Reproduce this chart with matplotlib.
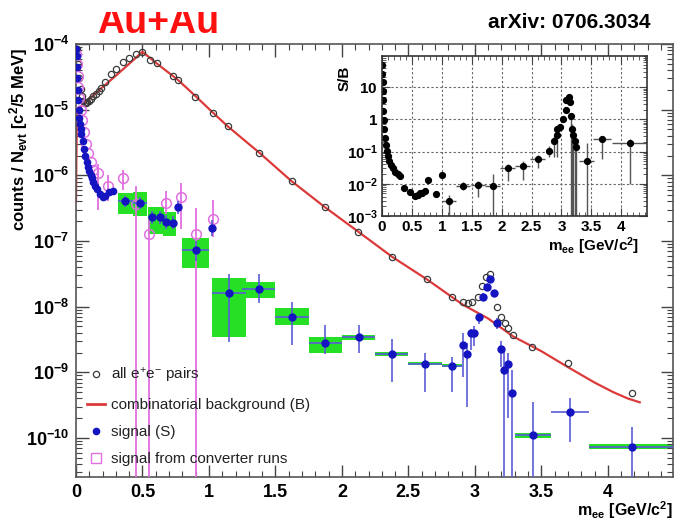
import matplotlib
matplotlib.use('Agg')
import matplotlib.pyplot as plt
import numpy as np
from matplotlib.ticker import FixedLocator, LogLocator, MultipleLocator, NullFormatter
from matplotlib.patches import Rectangle
from matplotlib.lines import Line2D

plt.rcParams['font.family'] = ['Liberation Sans', 'DejaVu Sans']
plt.rcParams['mathtext.fontset'] = 'custom'
plt.rcParams['mathtext.rm'] = 'Liberation Sans'
plt.rcParams['mathtext.bf'] = 'Liberation Sans:bold'
plt.rcParams['mathtext.it'] = 'Liberation Sans:italic'
plt.rcParams['mathtext.default'] = 'bf'

# ---- data ----
# combinatorial background (B)
bkg_x = [0.0, 0.003, 0.006, 0.01, 0.1, 0.2, 0.3, 0.4, 0.5, 0.6, 0.77, 0.9, 1.03, 1.14, 1.38,
         1.62, 1.87, 2.12, 2.38, 2.64, 2.91, 3.1, 3.29, 3.5, 3.7, 3.9, 4.04, 4.15, 4.24]
bkg_y = [4e-7, 2e-6, 6e-6, 1e-5, 1.45e-5, 2.2e-5, 3.3e-5, 5e-5, 7.6e-5, 5.2e-5, 2.8e-5, 1.6e-5,
         9e-6, 5.6e-6, 2.2e-6, 8.2e-7, 3.3e-7, 1.4e-7, 5.7e-8, 2.6e-8, 1.07e-8, 6.6e-9, 3.5e-9,
         2.1e-9, 1.2e-9, 7e-10, 5e-10, 4e-10, 3.5e-10]

# all e+e- pairs
all_x = [0.005, 0.015, 0.025, 0.035, 0.045, 0.055, 0.065, 0.075, 0.085, 0.095, 0.11, 0.13, 0.15,
         0.17, 0.19, 0.22, 0.26, 0.30, 0.35, 0.40, 0.45, 0.50, 0.556, 0.61, 0.73, 0.77, 0.895,
         1.03, 1.14, 1.376, 1.624, 1.872, 2.12, 2.376, 2.64, 2.83, 2.91, 2.95, 2.98, 3.02, 3.05,
         3.08, 3.11, 3.17, 3.20, 3.23, 3.25, 3.29, 3.43, 3.70, 4.18]
all_y = [8.5e-5, 5e-5, 3e-5, 2.1e-5, 1.6e-5, 1.35e-5, 1.25e-5, 1.25e-5, 1.3e-5, 1.35e-5, 1.45e-5,
         1.6e-5, 1.75e-5, 1.95e-5, 2.15e-5, 2.6e-5, 3.5e-5, 4.1e-5, 5.3e-5, 6.2e-5, 7e-5, 7.6e-5,
         5.7e-5, 5.1e-5, 3.2e-5, 2.8e-5, 1.56e-5, 8.9e-6, 5.6e-6, 2.2e-6, 8.2e-7, 3.3e-7, 1.38e-7,
         5.7e-8, 2.6e-8, 1.4e-8, 1.17e-8, 1.15e-8, 1.17e-8, 1.4e-8, 2.1e-8, 2.8e-8, 3.2e-8, 1e-8,
         7e-9, 5.6e-9, 4.8e-9, 3.7e-9, 2.45e-9, 1.4e-9, 4.9e-10]

# signal (S), fine low-mass bins
sd_x = [0.002, 0.005, 0.008, 0.011, 0.014, 0.017, 0.02, 0.025, 0.03, 0.035, 0.04, 0.05, 0.06,
        0.07, 0.08, 0.09, 0.10, 0.11, 0.12, 0.13, 0.145, 0.16, 0.18, 0.20, 0.22, 0.25, 0.28]
sd_y = [8.5e-5, 6.5e-5, 4.5e-5, 3e-5, 2e-5, 1.4e-5, 1e-5, 7.5e-6, 6e-6, 5e-6, 4.2e-6, 3.3e-6,
        2.5e-6, 2e-6, 1.6e-6, 1.35e-6, 1.15e-6, 1e-6, 9e-7, 8e-7, 7e-7, 6.3e-7, 5.2e-7, 4.6e-7,
        4.8e-7, 5.5e-7, 5.8e-7]

# signal (S), wider bins with stat. errors and syst. boxes
sig_x = [0.37, 0.48, 0.57, 0.63, 0.68, 0.73, 0.77, 0.90, 1.02, 1.15, 1.375, 1.625, 1.875, 2.125,
         2.375, 2.625, 2.825, 2.91, 2.94, 2.97, 2.99, 3.03, 3.06, 3.09, 3.11, 3.14, 3.17, 3.20,
         3.22, 3.25, 3.28, 3.435, 3.715, 4.18]
sig_y = [4.0e-7, 3.8e-7, 2.3e-7, 2.3e-7, 1.95e-7, 1.9e-7, 3.3e-7, 7.2e-8, 1.6e-7, 1.6e-8, 1.85e-8,
         7.0e-9, 2.8e-9, 3.4e-9, 1.9e-9, 1.35e-9, 1.26e-9, 2.6e-9, 1.9e-9, 4e-9, 4e-9, 7e-9,
         1.4e-8, 2e-8, 2.6e-8, 1.6e-8, 5.6e-9, 2.3e-9, 1.1e-9, 1.35e-9, 4.9e-10, 1.1e-10,
         2.5e-10, 7.4e-11]
sig_dx = [0.055, 0.055, 0.03, 0.03, 0.025, 0.02, 0.0, 0.1, 0.0, 0.125, 0.125, 0.125, 0.125,
          0.125, 0.125, 0.125, 0.075, 0, 0, 0, 0, 0, 0, 0, 0, 0, 0, 0, 0, 0, 0, 0.135, 0.145, 0.32]
sig_lo = [3.3e-7, 3.1e-7, 1.8e-7, 1.8e-7, 1.5e-7, 1.5e-7, 2.6e-7, 5e-8, 1.2e-7, 2.9e-9, 1.15e-8,
          2.6e-9, 1.9e-9, 2e-9, 7.2e-10, 5e-10, 5e-10, 8.5e-10, 3e-10, 2.2e-9, 2.5e-9, 5.5e-9,
          1.2e-8, 1.8e-8, 2.3e-8, 1.4e-8, 4.5e-9, 1.2e-9, 1e-12, 2e-10, 1e-12, 1e-12, 8.7e-11,
          1e-12]
sig_hi = [4.8e-7, 4.6e-7, 2.9e-7, 2.9e-7, 2.5e-7, 2.4e-7, 4.1e-7, 1e-7, 2.1e-7, 3.2e-8, 3.2e-8,
          1.17e-8, 5.2e-9, 5.2e-9, 3.2e-9, 2e-9, 1.7e-9, 4e-9, 2.8e-9, 4.6e-9, 5e-9, 8e-9, 1.6e-8,
          2.2e-8, 2.9e-8, 1.8e-8, 6.8e-9, 3e-9, 2.2e-9, 2e-9, 1.1e-9, 3.5e-10, 4e-10, 1.45e-10]
sys_lo = [2.6e-7, 2.4e-7, 1.3e-7, 1.3e-7, 1.2e-7, 1.2e-7, np.nan, 3.9e-8, np.nan, 3.5e-9,
          1.35e-8, 5.2e-9, 2e-9, 3.1e-9, 1.75e-9, 1.28e-9, 1.2e-9] + [np.nan] * 14 + \
         [1.0e-10, np.nan, 6.8e-11]
sys_hi = [5.4e-7, 5.6e-7, 3.3e-7, 3.3e-7, 2.8e-7, 2.8e-7, np.nan, 1.12e-7, np.nan, 2.75e-8,
          2.4e-8, 9.5e-9, 3.5e-9, 3.7e-9, 2.05e-9, 1.42e-9, 1.32e-9] + [np.nan] * 14 + \
         [1.2e-10, np.nan, 8e-11]

# signal from converter runs
conv_x = [0.003, 0.008, 0.012, 0.018, 0.025, 0.035, 0.045, 0.06, 0.075, 0.09, 0.11, 0.13, 0.165,
          0.24, 0.35, 0.45, 0.55, 0.68, 0.79, 0.90, 1.03]
conv_y = [7e-5, 5e-5, 3.3e-5, 2.2e-5, 1.5e-5, 1e-5, 7e-6, 4.5e-6, 3e-6, 2.2e-6, 1.6e-6, 1.2e-6,
          1.1e-6, 7e-7, 9e-7, 3.6e-7, 1.3e-7, 3.8e-7, 4.6e-7, 1.3e-7, 2.2e-7]
conv_lo = [7e-5, 5e-5, 3.3e-5, 2.2e-5, 1.5e-5, 1e-5, 7e-6, 4.5e-6, 3e-6, 2.2e-6, 1.6e-6, 1.2e-6,
           3e-7, 4e-7, 6e-7, 1e-12, 1e-12, 2.6e-7, 1.5e-7, 1e-12, 1.15e-7]
conv_hi = [7e-5, 5e-5, 3.3e-5, 2.2e-5, 1.5e-5, 1e-5, 7e-6, 4.5e-6, 3e-6, 2.2e-6, 1.6e-6, 1.2e-6,
           1.5e-6, 1e-6, 1.2e-6, 7e-7, 2.2e-7, 5.8e-7, 7.6e-7, 3.2e-7, 4.2e-7]

# inset: S/B
sb_x = [0.003, 0.008, 0.012, 0.016, 0.02, 0.025, 0.03, 0.04, 0.05, 0.065, 0.08, 0.1, 0.12, 0.15,
        0.18, 0.22, 0.26, 0.3, 0.36, 0.47, 0.55, 0.6, 0.63, 0.67, 0.72, 0.77, 0.90, 1.0, 1.12,
        1.35, 1.6, 1.85, 2.1, 2.35, 2.6, 2.8, 2.87, 2.92, 2.93, 2.97, 3.03, 3.07, 3.08, 3.12,
        3.14, 3.16, 3.17, 3.2, 3.23, 3.25, 3.42, 3.68, 4.15]
sb_y = [49, 25, 14, 7.5, 3.9, 1.8, 0.93, 0.5, 0.27, 0.16, 0.107, 0.075, 0.052, 0.038, 0.03, 0.024,
        0.02, 0.018, 7.5e-3, 5.6e-3, 4.2e-3, 4.5e-3, 5e-3, 5.3e-3, 5.8e-3, 1.33e-2, 4.9e-3, 1.9e-2,
        2.9e-3, 8.7e-3, 9.3e-3, 8.7e-3, 0.03, 0.036, 0.06, 0.107, 0.22, 0.32, 0.52, 0.6, 1.0, 1.9,
        3.9, 4.9, 3.4, 1.3, 0.52, 0.32, 0.22, 0.14, 0.052, 0.24, 0.19]
sb_dx = [0] * 28 + [0.12, 0.12, 0.12, 0.12, 0.12, 0.12, 0.12] + [0] * 15 + [0.13, 0.15, 0.3]
sb_lo = sb_y[:28] + [1e-4, 6.5e-3, 4e-3, 1e-4, 0.012, 0.013, 0.03, 0.07, 0.07, 0.07, 0.52, 0.6,
                     1.0, 1.9, 3.9, 4.9, 3.4, 1e-4, 1e-4, 1e-4, 1e-4, 1e-4, 1e-4, 0.06, 0.01]
sb_hi = sb_y[:28] + [4.5e-3, 0.011, 0.012, 0.02, 0.04, 0.05, 0.08, 0.15, 0.3, 0.4, 0.6, 0.7,
                     1.2, 2.3, 4.5, 5.5, 4.0, 1.6, 0.7, 0.4, 0.3, 0.2, 0.18, 0.3, 0.25]

# ---- styling ----
RED = '#dc3a3a'
BLUE = '#1414c0'
EBLUE = '#5b5bd6'
MAG = '#e070e0'
GREEN = '#25e025'
FRAME = '#555555'

fig = plt.figure(figsize=(6.81, 5.21), dpi=100)
ax = fig.add_axes([76 / 681, 1 - 477 / 521, (673 - 76) / 681, (477 - 44) / 521])
ax.set_yscale('log')
ax.set_xlim(0, 4.49)
ax.set_ylim(2.55e-11, 1e-4)

# syst. boxes
sx = np.array(sig_x); sdx = np.array(sig_dx)
slo = np.array(sys_lo); shi = np.array(sys_hi)
ok = ~np.isnan(slo)
ax.bar(sx[ok], shi[ok] - slo[ok], bottom=slo[ok], width=2 * sdx[ok], color=GREEN,
       edgecolor='none', zorder=1)

ax.plot(bkg_x, bkg_y, color=RED, lw=1.6, zorder=2)
ax.plot(all_x, all_y, 'o', mfc='none', mec='#3a3a3a', ms=4.5, mew=0.9, zorder=3)

cy = np.array(conv_y)
ax.errorbar(conv_x, conv_y, yerr=[cy - np.array(conv_lo), np.array(conv_hi) - cy], fmt='o',
            mfc='none', mec=MAG, ecolor=MAG, ms=7, mew=1.1, elinewidth=1.3, capsize=0, zorder=4)

ax.plot(sd_x, sd_y, 'o', color=BLUE, ms=4.5, zorder=5)
sy = np.array(sig_y)
ax.errorbar(sig_x, sig_y, xerr=sig_dx, yerr=[sy - np.array(sig_lo), np.array(sig_hi) - sy],
            fmt='o', color=BLUE, ecolor=EBLUE, ms=5, elinewidth=1.2, capsize=0, zorder=5)

# axes cosmetics (ROOT-like)
xmaj = [0, 0.5, 1, 1.5, 2, 2.5, 3, 3.5, 4]
ax.xaxis.set_major_locator(FixedLocator(xmaj))
ax.set_xticklabels(['0', '0.5', '1', '1.5', '2', '2.5', '3', '3.5', '4'], fontsize=13,
                   fontweight='bold')
ax.xaxis.set_minor_locator(MultipleLocator(0.1))
ymaj = [1e-10, 1e-9, 1e-8, 1e-7, 1e-6, 1e-5, 1e-4]
ax.yaxis.set_major_locator(FixedLocator(ymaj))
ax.set_yticklabels([r'$10^{-10}$', r'$10^{-9}$', r'$10^{-8}$', r'$10^{-7}$', r'$10^{-6}$',
                    r'$10^{-5}$', r'$10^{-4}$'], fontsize=13)
ax.yaxis.set_minor_locator(LogLocator(base=10, subs=np.arange(2, 10), numticks=20))
ax.yaxis.set_minor_formatter(NullFormatter())
ax.tick_params(which='both', direction='in', top=True, right=True, colors='#444444',
               labelcolor='black')
ax.tick_params(which='major', length=9, width=1, pad=5)
ax.tick_params(which='minor', length=4.5, width=0.8)
for s in ax.spines.values():
    s.set_color(FRAME)
    s.set_linewidth(1.2)

ax.set_ylabel(r'counts / N$_{evt}$ [c$^{2}$/5 MeV]', fontsize=12, fontweight='bold')
ax.yaxis.set_label_coords(-0.077, 0.78)
ax.set_xlabel(r'm$_{ee}$ [GeV/c$^{2}$]', fontsize=11.5, fontweight='bold', loc='right')
ax.xaxis.set_label_coords(1.0, -0.052)

handles = [
    Line2D([], [], ls='none', marker='o', mfc='none', mec='#3a3a3a', ms=4.5, mew=0.9),
    Line2D([], [], color=RED, lw=2),
    Line2D([], [], ls='none', marker='o', color=BLUE, ms=4.5),
    Line2D([], [], ls='none', marker='s', mfc='none', mec=MAG, ms=7, mew=1.0),
]
labels = [r'all $\mathregular{e^{+}e^{-}}$ pairs', 'combinatorial background (B)', 'signal (S)',
          'signal from converter runs']
leg = ax.legend(handles, labels, loc='lower left', bbox_to_anchor=(0.018, 0.025), frameon=False,
                fontsize=11, borderpad=0, borderaxespad=0, handlelength=1.2, handletextpad=0.4,
                labelspacing=0.85)
for t in leg.get_texts():
    t.set_color('#222222')

# inset S/B
ax2 = fig.add_axes([382 / 681, 1 - 216 / 521, (647 - 382) / 681, 160 / 521])
ax2.set_yscale('log')
ax2.set_xlim(0, 4.43)
ax2.set_ylim(1e-3, 93)
ax2.grid(True, which='major', ls=(0, (2, 2)), color='#666666', lw=0.8)
ax2.set_axisbelow(True)
sby = np.array(sb_y)
ax2.errorbar(sb_x, sb_y, xerr=sb_dx, yerr=[sby - np.array(sb_lo), np.array(sb_hi) - sby],
             fmt='o', color='black', ecolor='#555555', ms=4.2, elinewidth=1.0, capsize=0)
ax2.xaxis.set_major_locator(FixedLocator(xmaj))
ax2.set_xticklabels(['0', '0.5', '1', '1.5', '2', '2.5', '3', '3.5', '4'], fontsize=11,
                    fontweight='bold')
ax2.xaxis.set_minor_locator(MultipleLocator(0.1))
ax2.yaxis.set_major_locator(FixedLocator([1e-3, 1e-2, 1e-1, 1, 10]))
ax2.set_yticklabels([r'$10^{-3}$', r'$10^{-2}$', r'$10^{-1}$', '$1$', '$10$'], fontsize=11)
ax2.yaxis.set_minor_locator(LogLocator(base=10, subs=np.arange(2, 10), numticks=20))
ax2.yaxis.set_minor_formatter(NullFormatter())
ax2.tick_params(which='both', direction='in', top=True, right=True, colors='#444444',
                labelcolor='black')
ax2.tick_params(which='major', length=6, pad=3)
ax2.tick_params(which='minor', length=3)
for s in ax2.spines.values():
    s.set_color('#333333')
    s.set_linewidth(1.2)
ax2.set_ylabel('S/B', fontsize=11, fontweight='bold')
ax2.yaxis.set_label_coords(-0.115, 0.86)
ax2.set_xlabel(r'm$_{ee}$ [GeV/c$^{2}$]', fontsize=11, fontweight='bold', loc='right')
ax2.xaxis.set_label_coords(0.97, -0.12)

# header texts
title = fig.text(158 / 681, 1 - 33 / 521, 'Au+Au', color='#ff1010', fontsize=27,
                 fontweight='bold', ha='center', va='baseline')
title.set_clip_path(Rectangle((0, 0), 1, 1 - 12 / 521, transform=fig.transFigure))
fig.text(650 / 681, 1 - 28 / 521, 'arXiv: 0706.3034', color='black', fontsize=15,
         fontweight='bold', ha='right', va='baseline')

fig.savefig('out.png', dpi=100)
